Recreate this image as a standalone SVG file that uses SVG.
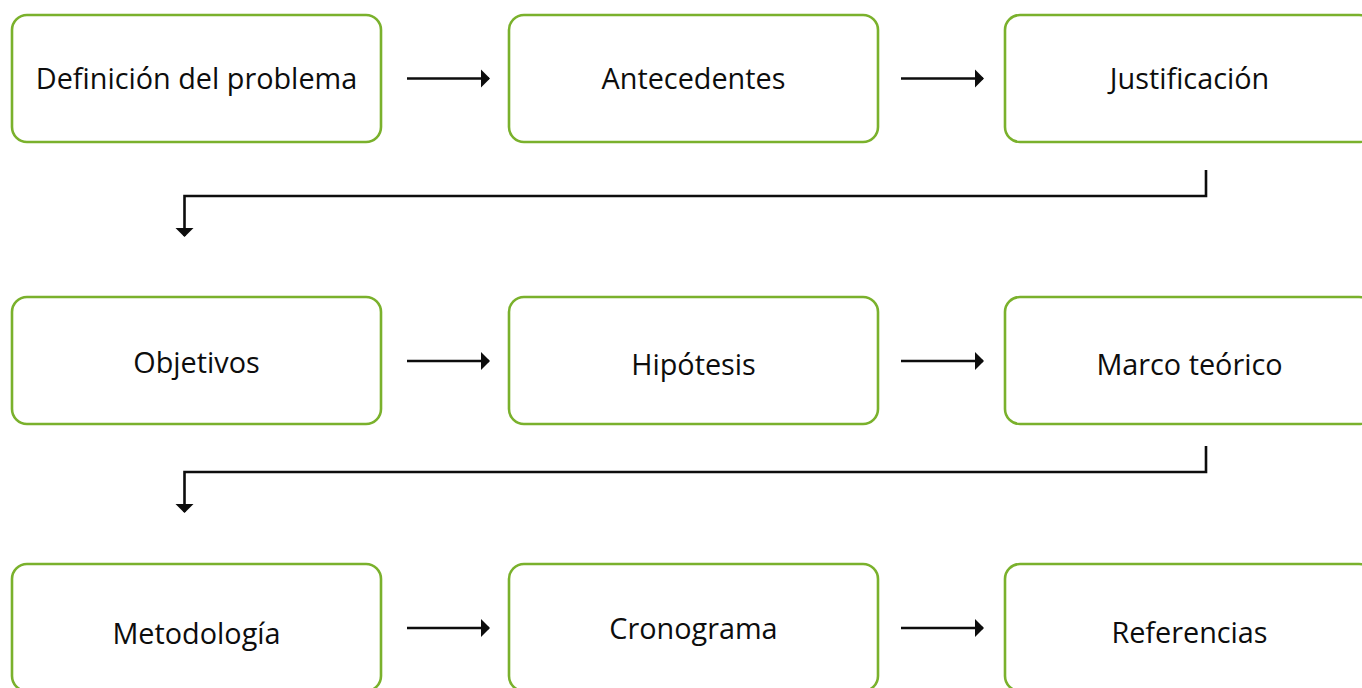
<svg xmlns="http://www.w3.org/2000/svg" width="1362" height="688" viewBox="0 0 1362 688">
<defs>
<style>
.box{fill:#ffffff;stroke:#7ab12c;stroke-width:2.6}
.lbl{font-family:"Open Sans","Liberation Sans",sans-serif;font-size:28.8px;fill:#0d0d0d;text-anchor:middle}
.con{fill:none;stroke:#0d0d0d;stroke-width:2.6}
</style>
<marker id="ah" viewBox="0 0 9 18" refX="8" refY="9" markerWidth="9" markerHeight="18" markerUnits="userSpaceOnUse" orient="auto" overflow="visible">
<path d="M0,0 L9,9 L0,18 Z" fill="#0d0d0d"/>
</marker>
</defs>
<rect width="1362" height="688" fill="#ffffff"/>
<g id="n1"><rect class="box" x="12" y="15" width="369" height="127" rx="15"/><text class="lbl" x="196.5" y="89">Definición del problema</text></g>
<g id="n2"><rect class="box" x="509" y="15" width="369" height="127" rx="15"/><text class="lbl" x="693.5" y="89">Antecedentes</text></g>
<g id="n3"><rect class="box" x="1005" y="15" width="369" height="127" rx="15"/><text class="lbl" x="1189.5" y="89">Justificación</text></g>
<g id="n4"><rect class="box" x="12" y="297" width="369" height="127" rx="15"/><text class="lbl" x="196.5" y="373">Objetivos</text></g>
<g id="n5"><rect class="box" x="509" y="297" width="369" height="127" rx="15"/><text class="lbl" x="693.5" y="375">Hipótesis</text></g>
<g id="n6"><rect class="box" x="1005" y="297" width="369" height="127" rx="15"/><text class="lbl" x="1189.5" y="375">Marco teórico</text></g>
<g id="n7"><rect class="box" x="12" y="564" width="369" height="127" rx="15"/><text class="lbl" x="196.5" y="644">Metodología</text></g>
<g id="n8"><rect class="box" x="509" y="564" width="369" height="127" rx="15"/><text class="lbl" x="693.5" y="639">Cronograma</text></g>
<g id="n9"><rect class="box" x="1005" y="564" width="369" height="127" rx="15"/><text class="lbl" x="1189.5" y="643">Referencias</text></g>
<g id="connectors">
<path class="con" d="M407,78.5 H489" marker-end="url(#ah)"/>
<path class="con" d="M901,78.5 H983" marker-end="url(#ah)"/>
<path class="con" d="M1206,170 V196 H184.5 V236" marker-end="url(#ah)"/>
<path class="con" d="M407,361 H489" marker-end="url(#ah)"/>
<path class="con" d="M901,361 H983" marker-end="url(#ah)"/>
<path class="con" d="M1206,446 V472 H184.5 V512" marker-end="url(#ah)"/>
<path class="con" d="M407,628 H489" marker-end="url(#ah)"/>
<path class="con" d="M901,628 H983" marker-end="url(#ah)"/>
</g>
</svg>
